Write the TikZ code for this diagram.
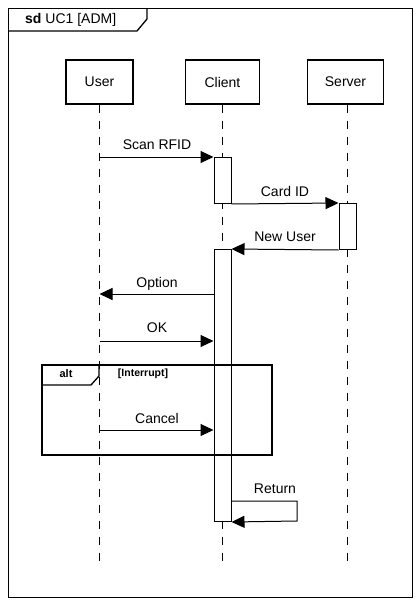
\documentclass[tikz,border=0pt]{standalone}
\usepackage{fontspec}
\setmainfont{Liberation Sans}
\usetikzlibrary{arrows.meta}
\begin{document}
\begin{tikzpicture}[x=1pt,y=-1pt,
  txt/.style={font=\fontsize{14}{16}\selectfont, inner sep=0pt},
  head/.style={draw, line width=1.8pt, minimum width=67pt, minimum height=44pt, font=\fontsize{14}{16}\selectfont},
  act/.style={draw, line width=1pt, fill=white, minimum width=17pt, inner sep=0pt, anchor=north},
  life/.style={line width=1.2pt, dash pattern=on 8pt off 8pt},
  msg/.style={line width=1pt, -{Triangle[length=13pt,width=12pt]}},
  frame/.style={line width=1pt}]
\useasboundingbox (0,0) rectangle (420,605);
% outer frame
\draw[frame] (8,8) rectangle (412,597);
\draw[line width=1.3pt] (8,31) -- (137,31) -- (147,19) -- (147,8);
\node[txt, anchor=west] (title) at (25,20) {\textbf{sd} UC1 [ADM]};
% lifeline heads
\node[head, minimum width=67pt] (user) at (99.5,82) {User};
\node[head, minimum width=74pt] (client) at (222.5,82) {Client};
\node[head, minimum width=76pt] (server) at (345.5,82) {Server};
\coordinate (uend) at (99.5,567);
\coordinate (cend) at (222.5,567);
\coordinate (send) at (347.5,567);
\draw[life] (user.south) -- (uend);
\draw[life] (client.south) -- (cend);
\draw[life] (send |- server.south) -- (send);
% activations
\node[act, minimum height=46pt] (a1) at (222.5,157) {};
\node[act, minimum height=46pt] (s1) at (347.5,203) {};
\node[act, minimum height=272pt] (a2) at (222.5,249) {};
% alt frame
\draw[line width=1.8pt] (42,365) rectangle (272,455);
\draw[line width=1.3pt] (42,385) -- (91,385) -- (99,376) -- (99,365);
\node[inner sep=0pt, font=\fontsize{11}{13}\selectfont\bfseries] (alt) at (66,374) {alt};
\node[inner sep=0pt, font=\fontsize{10.5}{13}\selectfont\bfseries] (cond) at (143,374) {[Interrupt]};
% messages
\coordinate (u1) at (99.5,157);
\draw[msg] (u1) -- (a1.north west);
\node[txt] (l1) at (157,145) {Scan RFID};
\draw[msg] (a1.south east) -- (s1.north west);
\node[txt] (l2) at (285,191) {Card ID};
\draw[msg] (s1.south west) -- (a2.north east);
\node[txt] (l3) at (285,237) {New User};
\coordinate (u2) at (99.5,294);
\draw[msg] (a2.west |- u2) -- (u2);
\node[txt] (l4) at (157,284) {Option};
\coordinate (u3) at (99.5,341);
\draw[msg] (u3) -- (a2.west |- u3);
\node[txt] (l5) at (157,328) {OK};
\coordinate (u4) at (99.5,430);
\draw[msg] (u4) -- (a2.west |- u4);
\node[txt] (l6) at (157,418) {Cancel};
\coordinate (r1) at (297,501);
\coordinate (r2) at (297,521);
\draw[msg] (a2.east |- r1) -- (r1) -- (r2) -- (a2.south east);
\node[txt] (l7) at (275,489) {Return};
\end{tikzpicture}
\end{document}
